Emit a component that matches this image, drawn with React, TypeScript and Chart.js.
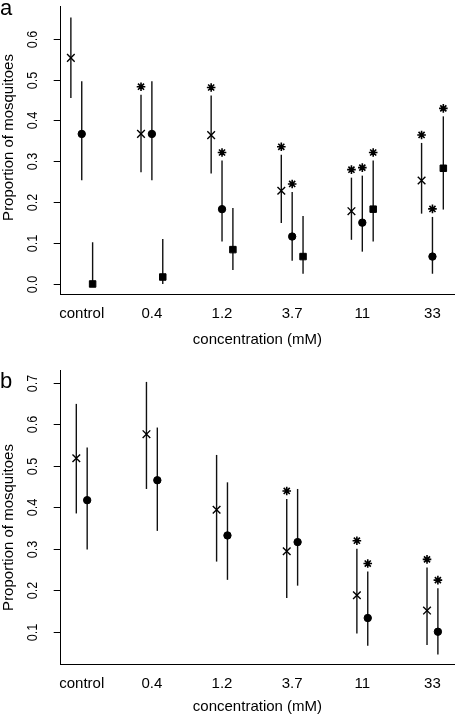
import React, { useEffect, useRef } from "react";
import { Chart, registerables } from "chart.js";

Chart.register(...registerables);

const categories = ["control", "0.4", "1.2", "3.7", "11", "33"];

// Panel a
const aCrossMean = [0.553, 0.367, 0.364, 0.228, 0.178, 0.253];
const aCrossLow = [0.455, 0.273, 0.27, 0.149, 0.108, 0.172];
const aCrossHigh = [0.652, 0.463, 0.461, 0.316, 0.26, 0.345];
const aCrossSig = [false, true, true, true, true, true];

const aCircleMean = [0.367, 0.367, 0.183, 0.116, 0.15, 0.067];
const aCircleLow = [0.254, 0.254, 0.104, 0.057, 0.079, 0.025];
const aCircleHigh = [0.496, 0.496, 0.302, 0.225, 0.265, 0.164];
const aCircleSig = [false, false, true, true, true, true];

const aSquareMean = [0.0, 0.017, 0.084, 0.067, 0.183, 0.283];
const aSquareLow = [0.0, 0.0, 0.034, 0.025, 0.104, 0.182];
const aSquareHigh = [0.102, 0.11, 0.186, 0.166, 0.302, 0.41];
const aSquareSig = [false, false, false, false, true, true];

const aYTicks = [0.0, 0.1, 0.2, 0.3, 0.4, 0.5, 0.6];

// Panel b
const bCrossMean = [0.518, 0.576, 0.394, 0.294, 0.188, 0.151];
const bCrossLow = [0.385, 0.444, 0.269, 0.181, 0.096, 0.068];
const bCrossHigh = [0.649, 0.702, 0.526, 0.42, 0.3, 0.255];
const bCrossSig = [false, false, false, true, true, true];

const bCircleMean = [0.417, 0.465, 0.332, 0.316, 0.133, 0.1];
const bCircleLow = [0.298, 0.343, 0.225, 0.211, 0.066, 0.045];
const bCircleHigh = [0.544, 0.592, 0.46, 0.444, 0.245, 0.205];
const bCircleSig = [false, false, false, false, true, true];

const bYTicks = [0.1, 0.2, 0.3, 0.4, 0.5, 0.6, 0.7];

const yTitle = "Proportion of mosquitoes";
const xTitle = "concentration (mM)";

const FONT = "'Liberation Sans', Arial, Helvetica, sans-serif";

type Series = {
  mean: number[];
  low: number[];
  high: number[];
  sig: boolean[];
  kind: "cross" | "circle" | "square";
};

type PanelProps = {
  letter: string;
  top: number;
  height: number;
  padTop: number;
  xAxisHeight: number;
  yMin: number;
  yMax: number;
  yTicks: number[];
  series: Series[];
  xTitleOffset: number;
  yTitleCenter: number;
  letterBaseline: number;
};

const OFFSET = 0.155;

function Panel(p: PanelProps) {
  const ref = useRef<HTMLCanvasElement | null>(null);
  useEffect(() => {
    const canvas = ref.current;
    if (!canvas) return;
    const n = p.series.length;
    const offsets = p.series.map((_, k) => (k - (n - 1) / 2) * OFFSET);

    const styleOf = (kind: Series["kind"]) => {
      if (kind === "cross") return { pointStyle: "crossRot", pointRadius: 5.4, borderWidth: 1.4 };
      if (kind === "circle") return { pointStyle: "circle", pointRadius: 3.7, borderWidth: 1 };
      return { pointStyle: "rect", pointRadius: 4.6, borderWidth: 1 };
    };

    const overlay = {
      id: "overlay",
      beforeDatasetsDraw(chart: any) {
        const ctx = chart.ctx;
        const xs = chart.scales.x;
        const ys = chart.scales.y;
        ctx.save();
        ctx.strokeStyle = "#111";
        ctx.lineWidth = 1.4;
        p.series.forEach((s, k) => {
          s.mean.forEach((_, i) => {
            const x = xs.getPixelForValue(i + 1 + offsets[k]);
            ctx.beginPath();
            ctx.moveTo(x, ys.getPixelForValue(s.low[i]));
            ctx.lineTo(x, ys.getPixelForValue(s.high[i]));
            ctx.stroke();
          });
        });
        ctx.restore();
      },
      afterDraw(chart: any) {
        const ctx = chart.ctx;
        const xs = chart.scales.x;
        const ys = chart.scales.y;
        const area = chart.chartArea;
        ctx.save();
        // asterisks
        ctx.strokeStyle = "#000";
        ctx.lineWidth = 1.6;
        p.series.forEach((s, k) => {
          s.sig.forEach((sg, i) => {
            if (!sg) return;
            const x = xs.getPixelForValue(i + 1 + offsets[k]);
            const y = ys.getPixelForValue(s.high[i]) - 8;
            const r = 4.3;
            const d = r * Math.SQRT1_2;
            ctx.beginPath();
            ctx.moveTo(x - r, y);
            ctx.lineTo(x + r, y);
            ctx.moveTo(x, y - r);
            ctx.lineTo(x, y + r);
            ctx.moveTo(x - d, y - d);
            ctx.lineTo(x + d, y + d);
            ctx.moveTo(x - d, y + d);
            ctx.lineTo(x + d, y - d);
            ctx.stroke();
          });
        });
        // y ticks + labels
        ctx.lineWidth = 1;
        ctx.strokeStyle = "#000";
        ctx.fillStyle = "#000";
        ctx.font = `14px ${FONT}`;
        ctx.textAlign = "center";
        ctx.textBaseline = "middle";
        p.yTicks.forEach((v) => {
          const y = Math.round(ys.getPixelForValue(v)) + 0.5;
          ctx.beginPath();
          ctx.moveTo(area.left - 7, y);
          ctx.lineTo(area.left, y);
          ctx.stroke();
          ctx.save();
          ctx.translate(33, y);
          ctx.rotate(-Math.PI / 2);
          ctx.scale(0.9, 1);
          ctx.fillText(v.toFixed(1), 0, 0);
          ctx.restore();
        });
        // x labels
        ctx.font = `15px ${FONT}`;
        categories.forEach((c, i) => {
          ctx.fillText(c, xs.getPixelForValue(i + 1), area.bottom + 19.5);
        });
        ctx.fillText(xTitle, (area.left + area.right) / 2, area.bottom + p.xTitleOffset);
        // y title
        ctx.save();
        ctx.translate(8.5, p.yTitleCenter);
        ctx.rotate(-Math.PI / 2);
        ctx.fillText(yTitle, 0, 0);
        ctx.restore();
        // panel letter
        ctx.font = `22px ${FONT}`;
        ctx.textAlign = "left";
        ctx.textBaseline = "alphabetic";
        ctx.fillText(p.letter, 0, p.letterBaseline);
        ctx.restore();
      },
    };

    const chart = new Chart(canvas, {
      type: "scatter",
      data: {
        datasets: p.series.map((s, k) => ({
          data: s.mean.map((v, i) => ({ x: i + 1 + offsets[k], y: v })),
          backgroundColor: "#000",
          borderColor: "#000",
          ...styleOf(s.kind),
          showLine: false,
        })) as any,
      },
      options: {
        animation: false,
        responsive: false,
        events: [],
        layout: { padding: { top: p.padTop, left: 0, right: 0, bottom: 0 } },
        plugins: { legend: { display: false }, tooltip: { enabled: false } },
        scales: {
          x: {
            type: "linear",
            min: 0.7,
            max: 6.31,
            grid: { display: false },
            border: { display: true, color: "#000", width: 1 },
            ticks: { display: false },
            afterFit: (s: any) => {
              s.height = p.xAxisHeight;
            },
          },
          y: {
            type: "linear",
            min: p.yMin,
            max: p.yMax,
            grid: { display: false },
            border: { display: true, color: "#000", width: 1 },
            ticks: { display: false },
            afterFit: (s: any) => {
              s.width = 60.7;
            },
          },
        },
      } as any,
      plugins: [overlay],
    });
    return () => chart.destroy();
  }, []);

  return (
    <canvas
      ref={ref}
      width={461}
      height={p.height}
      style={{ position: "absolute", left: 0, top: p.top, width: 461, height: p.height }}
    />
  );
}

export default function App() {
  const seriesA: Series[] = [
    { mean: aCrossMean, low: aCrossLow, high: aCrossHigh, sig: aCrossSig, kind: "cross" },
    { mean: aCircleMean, low: aCircleLow, high: aCircleHigh, sig: aCircleSig, kind: "circle" },
    { mean: aSquareMean, low: aSquareLow, high: aSquareHigh, sig: aSquareSig, kind: "square" },
  ];
  const seriesB: Series[] = [
    { mean: bCrossMean, low: bCrossLow, high: bCrossHigh, sig: bCrossSig, kind: "cross" },
    { mean: bCircleMean, low: bCircleLow, high: bCircleHigh, sig: bCircleSig, kind: "circle" },
  ];
  return (
    <div style={{ position: "absolute", left: 0, top: 0, width: 461, height: 715, background: "#fff" }}>
      <Panel
        letter="a"
        top={0}
        height={357}
        padTop={0}
        xAxisHeight={62.7}
        yMin={-0.0253}
        yMax={0.678}
        yTicks={aYTicks}
        series={seriesA}
        xTitleOffset={45.5}
        yTitleCenter={137.5}
        letterBaseline={15}
      />
      <Panel
        letter="b"
        top={357}
        height={358}
        padTop={13.7}
        xAxisHeight={50.5}
        yMin={0.021}
        yMax={0.729}
        yTicks={bYTicks}
        series={seriesB}
        xTitleOffset={42.4}
        yTitleCenter={170.5}
        letterBaseline={31}
      />
    </div>
  );
}
